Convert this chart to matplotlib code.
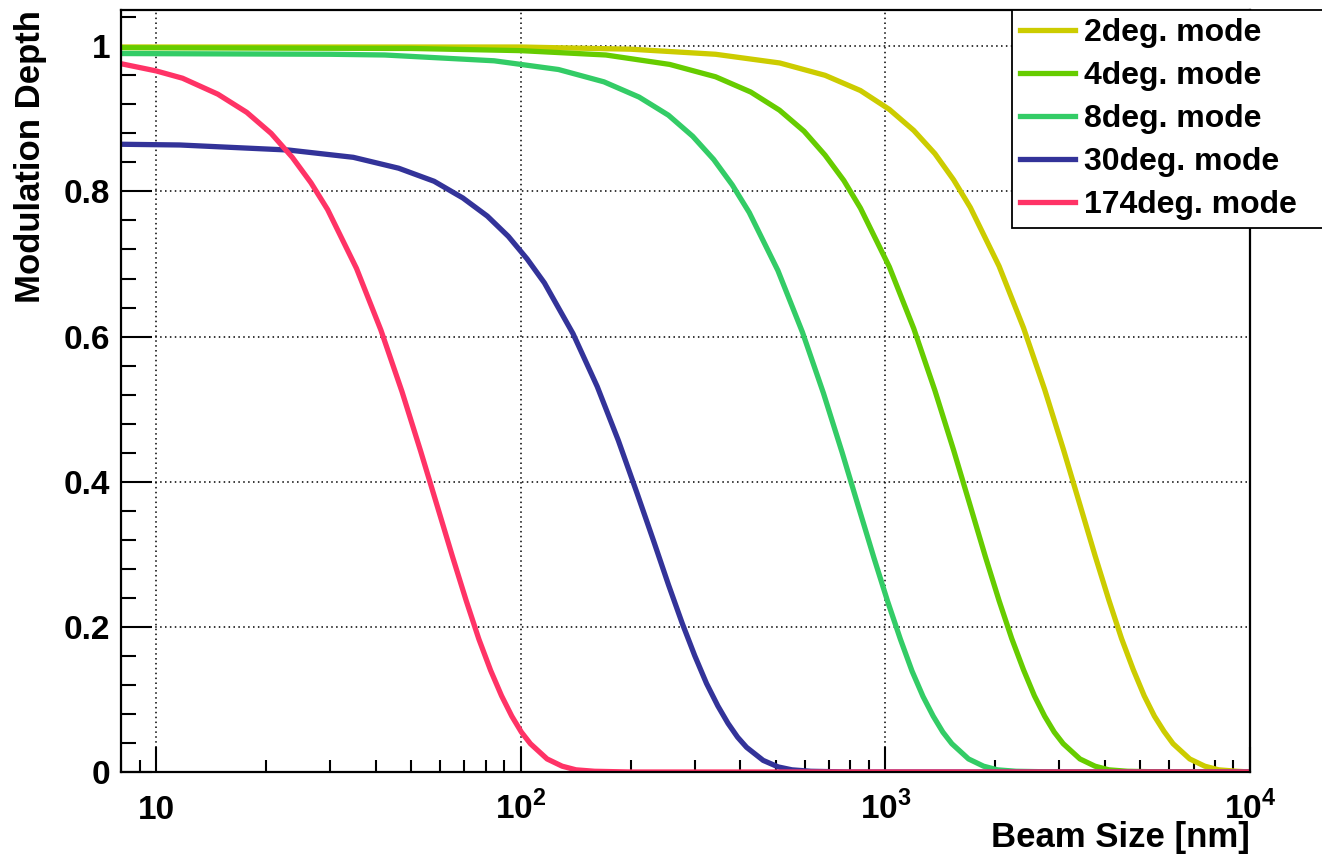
import numpy as np
import matplotlib
matplotlib.use('Agg')
import matplotlib.pyplot as plt
from matplotlib.ticker import FixedLocator, MultipleLocator, FuncFormatter

plt.rcParams['font.family'] = ['Liberation Sans', 'DejaVu Sans']
plt.rcParams['font.weight'] = 'bold'
plt.rcParams['mathtext.fontset'] = 'custom'
plt.rcParams['mathtext.rm'] = 'Liberation Sans:bold'
plt.rcParams['mathtext.bf'] = 'Liberation Sans:bold'

# values: beam size [nm] -> modulation depth
x_2deg = [8, 100, 200, 342, 513, 683, 854, 1025, 1196, 1367, 1538, 1709, 2050,
          2392, 2734, 3075, 3417, 3759, 4100, 4442, 4784, 5126, 5467, 5809,
          6151, 6834, 7517, 8201, 9226, 10000]
y_2deg = [0.999, 0.999, 0.996, 0.989, 0.977, 0.960, 0.939, 0.913, 0.884, 0.852,
          0.816, 0.778, 0.697, 0.612, 0.527, 0.445, 0.368, 0.298, 0.237, 0.184,
          0.141, 0.105, 0.077, 0.056, 0.039, 0.018, 0.008, 0.003, 0.001, 0.0]

x_4deg = [8, 50, 100, 171, 256, 342, 427, 512, 598, 683, 769, 854, 1025, 1196,
          1366, 1537, 1708, 1879, 2050, 2220, 2391, 2562, 2733, 2904, 3074,
          3416, 3758, 4099, 4612, 6000, 10000]
y_4deg = [0.998, 0.997, 0.994, 0.988, 0.975, 0.958, 0.937, 0.912, 0.883, 0.850,
          0.815, 0.777, 0.696, 0.611, 0.526, 0.444, 0.367, 0.297, 0.236, 0.184,
          0.141, 0.105, 0.077, 0.055, 0.039, 0.018, 0.008, 0.003, 0.001, 0.0,
          0.0]

x_8deg = [8, 30, 42.3, 84.5, 126.8, 169, 211, 254, 296, 338, 380, 423, 507, 592,
          676, 761, 845, 930, 1014, 1099, 1183, 1268, 1352, 1437, 1521, 1690,
          1859, 2028, 2282, 3000, 10000]
y_8deg = [0.990, 0.989, 0.988, 0.980, 0.968, 0.951, 0.930, 0.905, 0.876, 0.844,
          0.809, 0.771, 0.691, 0.606, 0.522, 0.440, 0.364, 0.295, 0.235, 0.183,
          0.139, 0.104, 0.077, 0.055, 0.039, 0.018, 0.008, 0.003, 0.001, 0.0,
          0.0]

x_30deg = [8, 11.6, 23.1, 34.7, 46.2, 57.8, 69.3, 80.9, 92.4, 104, 116, 139, 162,
           185, 208, 231, 254, 277, 300, 323, 347, 370, 393, 416, 462, 508, 554,
           624, 800, 10000]
y_30deg = [0.865, 0.864, 0.857, 0.847, 0.832, 0.814, 0.791, 0.766, 0.738, 0.707,
           0.674, 0.604, 0.531, 0.457, 0.385, 0.319, 0.258, 0.205, 0.160, 0.122,
           0.091, 0.067, 0.048, 0.034, 0.016, 0.007, 0.003, 0.001, 0.0, 0.0]

x_174deg = [8, 10, 11.8, 14.75, 17.7, 20.65, 23.6, 26.55, 29.5, 35.4, 41.3, 47.2,
            53.1, 59.0, 64.9, 70.8, 76.7, 82.6, 88.5, 94.4, 100.3, 106.2, 118,
            129.8, 141.6, 159.3, 200, 10000]
y_174deg = [0.976, 0.966, 0.956, 0.934, 0.909, 0.880, 0.847, 0.812, 0.775, 0.694,
            0.609, 0.524, 0.442, 0.366, 0.297, 0.236, 0.183, 0.140, 0.105, 0.077,
            0.055, 0.039, 0.018, 0.008, 0.003, 0.001, 0.0, 0.0]

labels = ['2deg. mode', '4deg. mode', '8deg. mode', '30deg. mode', '174deg. mode']
colors = ['#cccc00', '#66cc00', '#33cc66', '#333399', '#ff3366']

fig = plt.figure(figsize=(13.22, 8.61), dpi=100)
ax = fig.add_axes([121/1322, 1-772/861, (1250-121)/1322, (772-10)/861])

series = [(x_2deg, y_2deg), (x_4deg, y_4deg), (x_8deg, y_8deg),
          (x_30deg, y_30deg), (x_174deg, y_174deg)]
for (xs, ys), lab, c in zip(series, labels, colors):
    ax.plot(xs, ys, color=c, lw=3.8, label=lab, solid_joinstyle='round')

ax.set_xscale('log')
ax.set_xlim(8, 1e4)
ax.set_ylim(0, 1.05)

# ticks, ROOT style
ax.xaxis.set_major_locator(FixedLocator([10, 100, 1000, 10000]))
minors = [m*10**e for e in range(0, 4) for m in range(2, 10)]
ax.xaxis.set_minor_locator(FixedLocator(minors))

def xfmt(v, pos):
    if abs(v - 10) < 1e-6:
        return '10'
    return r'$10^{%d}$' % int(round(np.log10(v)))
ax.xaxis.set_major_formatter(FuncFormatter(xfmt))
ax.xaxis.set_minor_formatter(FuncFormatter(lambda v, p: ''))

ax.yaxis.set_major_locator(MultipleLocator(0.2))
ax.yaxis.set_minor_locator(MultipleLocator(0.04))

def yfmt(v, pos):
    if abs(v) < 1e-6:
        return '0'
    if abs(v - 1) < 1e-6:
        return '1'
    return '%.1f' % v
ax.yaxis.set_major_formatter(FuncFormatter(yfmt))

ax.tick_params(axis='x', which='major', direction='in', length=18, width=1.5,
               labelsize=24, pad=34, top=False)
ax.tick_params(axis='x', which='minor', direction='in', length=9, width=1.5, top=False)
ax.tick_params(axis='y', which='major', direction='in', length=22, width=1.5,
               labelsize=24, pad=8, right=False)
ax.tick_params(axis='y', which='minor', direction='in', length=11, width=1.5, right=False)
for lab in ax.get_xticklabels():
    lab.set_va('baseline')

for s in ax.spines.values():
    s.set_linewidth(1.6)

ax.grid(True, which='major', color='black', linestyle=(0, (1, 2.2)), lw=1.1)

fig.text(1250/1322, 1-838/861, 'Beam Size [nm]', ha='right', va='center',
         fontsize=25, fontweight='bold')
fig.text(31/1322, 1-10/861, 'Modulation Depth', rotation=90, ha='center', va='top',
         fontsize=25, fontweight='bold')

# legend box runs off the right edge, as in the original
leg = fig.legend(loc='upper left', mode='expand',
                 bbox_to_anchor=(1012/1322, 1-10/861, (1335-1012)/1322, 0.0),
                 bbox_transform=fig.transFigure, prop={'size': 23, 'weight': 'bold'},
                 handlelength=1.72, handletextpad=0.28, labelspacing=0.41,
                 borderpad=0.25, borderaxespad=0, fancybox=False, framealpha=1)
leg.get_frame().set_edgecolor('black')
leg.get_frame().set_linewidth(1.3)

fig.savefig('out.png', dpi=100)
